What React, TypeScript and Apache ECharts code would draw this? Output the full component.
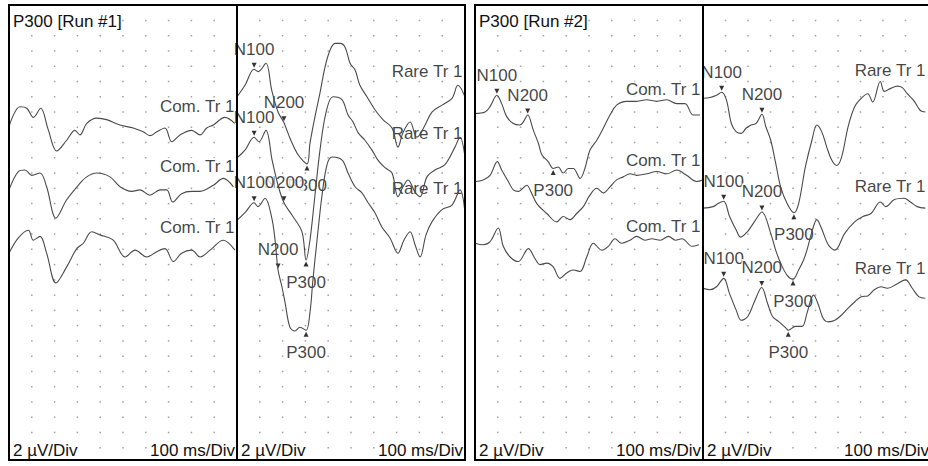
import React, { useEffect, useRef } from "react";
import * as echarts from "echarts";

// Averaged ERP traces: [time (ms after stimulus), amplitude (µV, negative drawn upward)]
const run1ComA: [number, number][] = [
  [0, -0.4], [48, -3.0], [78, -2.8], [107, -1.6], [139, -2.8], [172, 0.0], [209, 2.8], [253, 1.4], [289, 0.1], [311, 0.7],
  [341, -0.8], [385, -1.5], [428, -1.3], [487, -0.6], [545, -0.2], [589, 0.3], [618, 0.8], [648, 0.3], [684, -0.2],
  [714, 1.6], [750, 0.7], [801, 0.1], [838, 0.7], [867, -0.2], [896, -0.6], [947, -1.6], [990, -0.8],
];
const run1ComB: [number, number][] = [
  [0, 0.1], [41, -2.3], [70, -2.5], [100, -1.8], [136, -2.1], [165, -0.3], [206, 3.8], [253, 1.4], [304, -0.5], [341, -1.6],
  [385, -2.1], [443, -1.6], [487, -0.3], [538, 0.3], [575, 0.1], [618, 0.8], [662, 0.1], [692, 0.1], [718, 1.7],
  [757, 0.6], [801, 0.3], [838, 0.3], [896, -0.5], [940, -1.4], [984, -0.3],
];
const run1ComC: [number, number][] = [
  [0, 0.3], [41, -1.7], [85, -2.7], [107, -1.4], [136, -1.9], [165, 0.3], [206, 4.2], [253, 2.1], [297, -0.3], [326, -1.0],
  [363, -2.5], [399, -2.1], [457, -1.4], [509, 0.8], [553, -0.1], [604, 0.8], [648, 0.1], [684, -0.3], [721, 1.4],
  [757, 0.3], [801, -0.1], [838, 0.8], [882, -0.1], [940, -1.4], [991, -0.1],
];
const run1RareA: [number, number][] = [
  [0, 0.3], [35, -1.2], [75, -3.3], [93, -3.0], [127, -4.1], [152, -0.6], [180, 2.3], [206, 3.7], [232, 5.7], [268, 7.9],
  [307, 9.1], [320, 6.4], [342, 2.9], [364, -0.2], [386, -3.6], [408, -5.8], [430, -6.7], [452, -6.7], [474, -6.2],
  [496, -4.1], [518, -3.2], [539, -1.2], [570, 0.3], [605, 2.0], [640, 3.3], [680, 4.4], [706, 6.9], [728, 5.0],
  [759, 3.6], [789, 5.6], [825, 4.0], [855, 2.3], [899, 1.4], [943, 0.5], [969, -1.2], [1000, 0.3],
];
const run1RareB: [number, number][] = [
  [0, 0.2], [35, -0.8], [75, -2.5], [96, -1.9], [127, -3.4], [154, 0.5], [180, 3.8], [206, 6.1], [241, 7.7], [285, 9.9],
  [303, 13.6], [320, 11.0], [342, 5.1], [364, -0.8], [390, -5.7], [421, -7.8], [461, -7.4], [487, -5.4], [509, -4.5],
  [531, -3.1], [561, -2.1], [592, -0.8], [618, 0.5], [649, 1.5], [680, 2.2], [706, 5.3], [728, 4.0], [750, 3.1],
  [781, 4.7], [803, 5.3], [833, 2.7], [868, 1.8], [912, 1.1], [956, -1.2], [978, -2.5], [1000, 0.1],
];
const run1RareC: [number, number][] = [
  [0, 1.2], [35, 0.2], [75, -1.1], [92, -0.6], [123, -1.7], [152, 0.8], [167, 3.8], [180, 7.7], [197, 9.9], [211, 12.0],
  [232, 15.2], [254, 15.7], [276, 15.2], [303, 15.6], [320, 13.3], [333, 9.0], [351, 3.8], [373, -2.1], [395, -6.1],
  [417, -7.1], [461, -6.7], [487, -5.0], [518, -3.2], [548, -2.4], [575, -1.1], [605, 0.2], [636, 2.1], [671, 3.5],
  [706, 5.5], [732, 3.8], [759, 2.7], [781, 4.4], [803, 6.0], [829, 3.1], [855, 1.4], [899, -0.2], [943, -0.8],
  [978, -2.8], [1000, 0.2],
];
const run2ComA: [number, number][] = [
  [0, 0.1], [44, -0.1], [66, -0.8], [96, -2.3], [117, -1.2], [139, 0.5], [168, 1.4], [197, 1.6], [212, 1.2], [231, 0.3],
  [256, 2.3], [278, 4.0], [293, 5.5], [321, 6.4], [343, 7.3], [365, 7.1], [387, 7.9], [409, 7.3], [431, 7.3], [461, 8.6],
  [482, 7.3], [504, 4.9], [534, 3.6], [563, 2.0], [592, 0.3], [621, -1.0], [665, -1.5], [709, -1.5], [753, -1.7],
  [797, -1.5], [841, -1.7], [885, -1.2], [921, -1.2], [957, 0.3], [987, 0.3],
];
const run2ComB: [number, number][] = [
  [0, -0.2], [36, -0.4], [66, -1.0], [98, -2.8], [117, -1.7], [146, -0.2], [168, 0.9], [190, 1.1], [227, 0.3], [246, 1.2],
  [271, 2.7], [315, 4.0], [358, 5.1], [387, 4.4], [417, 4.8], [446, 4.0], [475, 3.1], [504, 1.6], [534, 0.7], [563, 1.3],
  [592, 0.5], [621, -0.4], [650, -0.8], [680, -1.2], [709, -1.0], [753, -1.2], [797, -1.5], [841, -1.2], [885, -1.7],
  [928, -1.0], [972, -0.2], [1000, -0.4],
];
const run2ComC: [number, number][] = [
  [0, -0.8], [36, -0.6], [66, -1.0], [102, -2.8], [124, -0.4], [154, 1.0], [190, 1.6], [234, -0.1], [263, 1.2], [285, 2.0],
  [315, 1.8], [343, 2.3], [373, 3.8], [402, 3.1], [431, 2.7], [461, 2.9], [490, 1.0], [519, -0.8], [556, 0.1], [585, -0.4],
  [614, -1.4], [643, -0.8], [680, -1.2], [709, -1.7], [746, -1.2], [775, -1.4], [812, -1.2], [849, -1.7], [879, -1.2],
  [908, -1.4], [952, -0.4], [982, -0.6],
];
const run2RareA: [number, number][] = [
  [0, 0.7], [31, 0.6], [60, 0.3], [83, -0.1], [104, 0.9], [126, 4.0], [148, 5.1], [170, 5.3], [192, 4.6], [214, 4.2],
  [236, 4.0], [262, 2.8], [279, 4.4], [301, 6.2], [323, 9.2], [345, 12.3], [374, 14.5], [404, 15.7], [425, 14.5],
  [455, 9.7], [484, 6.2], [506, 4.2], [528, 5.1], [550, 7.1], [572, 8.8], [594, 9.5], [616, 8.4], [645, 4.4], [674, 1.8],
  [703, 0.7], [732, 0.1], [754, 1.2], [788, -1.5], [806, -0.2], [835, -0.6], [864, -0.9], [886, -0.7], [908, 0.1],
  [937, 1.0], [966, 2.3], [988, 2.5],
];
const run2RareB: [number, number][] = [
  [0, -0.2], [45, -0.4], [67, -0.8], [92, -1.1], [118, 0.9], [148, 2.7], [167, 3.6], [197, 2.9], [228, 1.6], [262, 0.3],
  [301, 3.1], [323, 5.3], [345, 7.0], [374, 8.6], [400, 9.1], [425, 7.9], [447, 6.6], [462, 5.3], [484, 2.9], [506, 1.3],
  [526, 2.4], [557, 4.6], [586, 5.3], [630, 3.1], [674, 1.6], [711, 0.9], [747, 0.5], [788, -1.0], [813, -0.4],
  [849, -1.3], [893, -1.5], [922, -1.0], [952, -0.4], [988, -0.2],
];
const run2RareC: [number, number][] = [
  [0, -0.4], [31, -0.2], [60, -0.6], [92, -1.7], [118, 0.3], [148, 2.5], [170, 3.8], [199, 3.3], [228, 1.4], [261, -0.5],
  [287, 1.6], [309, 3.3], [338, 4.0], [368, 4.8], [379, 5.1], [411, 4.6], [440, 4.6], [462, 2.9], [478, 1.2], [491, 0.5],
  [513, 1.8], [535, 3.6], [557, 4.0], [586, 3.8], [616, 3.1], [645, 2.2], [674, 1.4], [703, 0.7], [732, 0.6], [761, -0.2],
  [790, -0.6], [820, -0.4], [864, -1.0], [900, -1.5], [930, -0.4], [959, 0.7], [988, 0.9],
];

// Vertical stacking offset of each trace (µV from the top of the panel)
const run1ComBaselines = [16.3, 24.1, 32.2];
const run1RareBaselines = [11.7, 19.8, 27.0];
const run2ComBaselines = [14.1, 23.3, 32.0];
const run2RareBaselines = [11.5, 26.8, 37.5];

// Marked components: [name, latency in ms]
const run1RarePeaksA: [string, number][] = [["N100", 75], ["N200", 206], ["P300", 307]];
const run1RarePeaksB: [string, number][] = [["N100", 75], ["N200", 206], ["P300", 303]];
const run1RarePeaksC: [string, number][] = [["N100", 75], ["N200", 180], ["P300", 303]];
const run2ComPeaksA: [string, number][] = [["N100", 96], ["N200", 231], ["P300", 343]];
const run2RarePeaksA: [string, number][] = [["N100", 83], ["N200", 262], ["P300", 404]];
const run2RarePeaksB: [string, number][] = [["N100", 92], ["N200", 262], ["P300", 400]];
const run2RarePeaksC: [string, number][] = [["N100", 92], ["N200", 261], ["P300", 379]];

const panelTitles = ["P300 [Run #1]", "", "P300 [Run #2]", ""];
const traceNames = ["Com. Tr 1", "Rare Tr 1", "Com. Tr 1", "Rare Tr 1"];
const voltScale = "2 µV/Div";
const timeScale = "100 ms/Div";

type Trace = { data: [number, number][]; base: number; peaks: [string, number][] };

const panels: Trace[][] = [
  [
    { data: run1ComA, base: run1ComBaselines[0], peaks: [] },
    { data: run1ComB, base: run1ComBaselines[1], peaks: [] },
    { data: run1ComC, base: run1ComBaselines[2], peaks: [] },
  ],
  [
    { data: run1RareA, base: run1RareBaselines[0], peaks: run1RarePeaksA },
    { data: run1RareB, base: run1RareBaselines[1], peaks: run1RarePeaksB },
    { data: run1RareC, base: run1RareBaselines[2], peaks: run1RarePeaksC },
  ],
  [
    { data: run2ComA, base: run2ComBaselines[0], peaks: run2ComPeaksA },
    { data: run2ComB, base: run2ComBaselines[1], peaks: [] },
    { data: run2ComC, base: run2ComBaselines[2], peaks: [] },
  ],
  [
    { data: run2RareA, base: run2RareBaselines[0], peaks: run2RarePeaksA },
    { data: run2RareB, base: run2RareBaselines[1], peaks: run2RarePeaksB },
    { data: run2RareC, base: run2RareBaselines[2], peaks: run2RarePeaksC },
  ],
];

// Layout
const PANEL_LEFT = [9, 237, 475, 703];
const PANEL_WIDTH = 228;
const PLOT_TOP = 5.2;
const PLOT_HEIGHT = 457.8;
const FRAME_TOP = 5;
const FRAME_BOTTOM = 460;
const FONT = "'Liberation Sans', Arial, Helvetica, sans-serif";
const FONT_SIZE = 17;
const TEXT_COLOR = "#111";
const TRACE_COLOR = "#4a4a4a";
const DOWN_TRIANGLE = "path://M0,0 L10,0 L5,9 Z";

function buildOption() {
  const series: any[] = [];
  const divDots: [number, number][] = [];
  for (let t = 100; t <= 900; t += 100) {
    for (let u = 2; u <= 58; u += 2) divDots.push([t, u]);
  }

  panels.forEach((traces, p) => {
    const axes = { xAxisIndex: p, yAxisIndex: p };
    series.push({
      type: "scatter", ...axes, data: divDots, symbol: "rect", symbolSize: 1.5,
      itemStyle: { color: "#8a8a8a" }, silent: true, z: 1, animation: false,
    });
    series.push({
      type: "scatter", ...axes, silent: true, z: 2, symbolSize: 1,
      itemStyle: { color: "rgba(0,0,0,0)" },
      data: traces.map((tr) => ({ name: traceNames[p], value: [1000, tr.base - 3] })),
      label: {
        show: true, position: "left", distance: 2, formatter: "{b}",
        fontFamily: FONT, fontSize: FONT_SIZE, color: TEXT_COLOR, backgroundColor: "#fff",
      },
    });
    const peakPoints: any[] = [];
    traces.forEach((tr) => {
      tr.peaks.forEach(([name, t]) => {
        const hit = tr.data.find((d) => d[0] === t);
        if (!hit) return;
        peakPoints.push({ name, value: [t, tr.base + hit[1]], negative: name.startsWith("N") });
      });
    });
    series.push({
      type: "scatter", ...axes, silent: true, z: 2, symbolSize: 1,
      itemStyle: { color: "rgba(0,0,0,0)" },
      data: peakPoints.map((pk) => ({
        name: pk.name, value: pk.value,
        label: { offset: [0, pk.negative ? -20 : 22] },
      })),
      label: {
        show: true, position: "inside", formatter: "{b}",
        fontFamily: FONT, fontSize: FONT_SIZE, color: TEXT_COLOR, backgroundColor: "#fff",
      },
    });
    series.push({
      type: "scatter", ...axes, silent: true, z: 2,
      data: peakPoints.map((pk) => ({
        name: pk.name, value: pk.value,
        symbol: pk.negative ? DOWN_TRIANGLE : "triangle",
        symbolOffset: [0, pk.negative ? -4 : 4],
      })),
      symbolSize: [5, 5],
      itemStyle: { color: "#000" },
    });
    traces.forEach((tr) => {
      series.push({
        type: "line", ...axes, silent: true, z: 3, showSymbol: false, smooth: 0.35,
        data: tr.data.map(([t, v]) => [t, tr.base + v]),
        lineStyle: { color: TRACE_COLOR, width: 1.1 },
      });
    });
  });

  const textStyle = (text: string, align: string) => ({
    text, fill: TEXT_COLOR, fontSize: FONT_SIZE, fontFamily: FONT,
    align, verticalAlign: "middle", backgroundColor: "#fff",
  });
  const graphics: any[] = [];
  PANEL_LEFT.forEach((left, p) => {
    if (panelTitles[p]) {
      graphics.push({ type: "text", x: left + 4, y: 21.5, z: 50, style: textStyle(panelTitles[p], "left") });
    }
    graphics.push({ type: "text", x: left + 4, y: 450.5, z: 50, style: textStyle(voltScale, "left") });
    graphics.push({ type: "text", x: left + PANEL_WIDTH - 2, y: 450.5, z: 50, style: textStyle(timeScale, "right") });
  });
  const frameStyle = { fill: "none", stroke: "#000", lineWidth: 2 };
  graphics.push({ type: "rect", z: 100, shape: { x: 9, y: FRAME_TOP, width: 456, height: FRAME_BOTTOM - FRAME_TOP }, style: frameStyle });
  graphics.push({ type: "rect", z: 100, shape: { x: 475, y: FRAME_TOP, width: 462, height: FRAME_BOTTOM - FRAME_TOP }, style: frameStyle });
  graphics.push({ type: "line", z: 100, shape: { x1: 237, y1: FRAME_TOP, x2: 237, y2: FRAME_BOTTOM }, style: { stroke: "#000", lineWidth: 2 } });
  graphics.push({ type: "line", z: 100, shape: { x1: 703, y1: FRAME_TOP, x2: 703, y2: FRAME_BOTTOM }, style: { stroke: "#000", lineWidth: 2 } });

  return {
    animation: false,
    backgroundColor: "#fff",
    grid: PANEL_LEFT.map((left) => ({ left, top: PLOT_TOP, width: PANEL_WIDTH, height: PLOT_HEIGHT })),
    xAxis: PANEL_LEFT.map((_, i) => ({ type: "value", gridIndex: i, min: 0, max: 1000, show: false })),
    yAxis: PANEL_LEFT.map((_, i) => ({ type: "value", gridIndex: i, min: 0, max: 60, inverse: true, show: false })),
    series,
    graphic: { elements: graphics },
  };
}

export default function App() {
  const ref = useRef<HTMLDivElement>(null);
  useEffect(() => {
    if (!ref.current) return;
    const chart = echarts.init(ref.current, undefined, { renderer: "svg", width: 928, height: 466 });
    chart.setOption(buildOption() as any);
    return () => chart.dispose();
  }, []);
  return (
    <div
      ref={ref}
      style={{ position: "fixed", left: 0, top: 0, width: 928, height: 466, background: "#fff" }}
    />
  );
}
